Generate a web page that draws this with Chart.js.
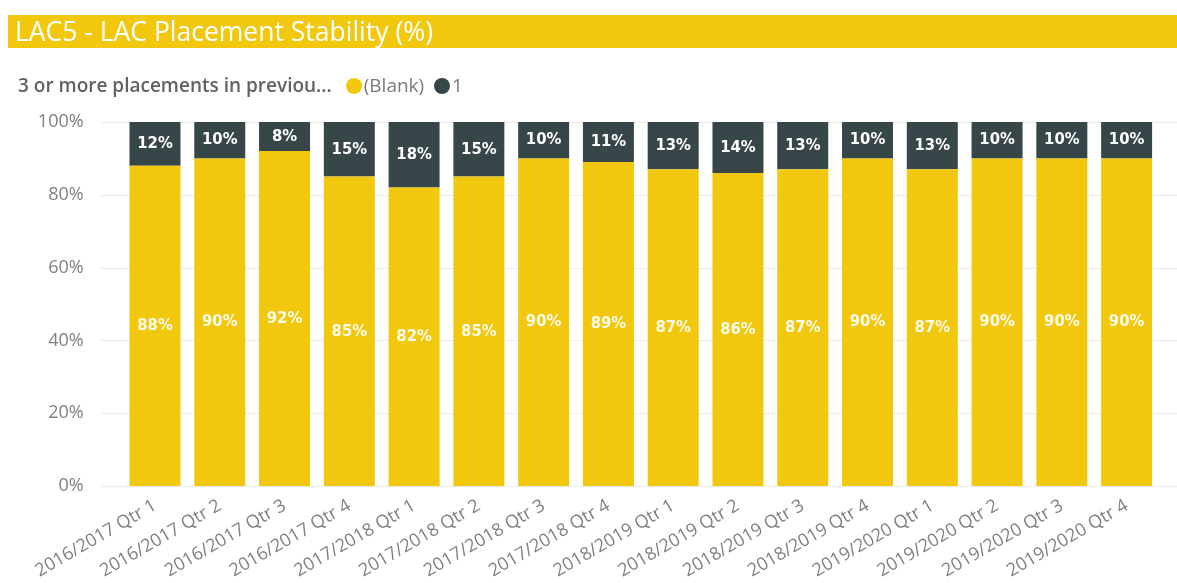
<!DOCTYPE html>
<html>
<head>
<meta charset="utf-8">
<script src="https://cdn.jsdelivr.net/npm/chart.js@4/dist/chart.umd.min.js"></script>
<style>
  html, body { margin: 0; padding: 0; background: #fff; width: 1177px; height: 583px; overflow: hidden; }
  #wrap { position: relative; width: 1177px; height: 583px; }
  #title { position: absolute; left: 8px; top: 15px; width: 1169px; height: 33px; background: #F2C80F;
           color: #fff; font-family: "Open Sans", sans-serif; font-size: 26.5px; line-height: 33px; box-sizing: border-box; padding-left: 7px; white-space: nowrap; }
  #legend { position: absolute; left: 18px; top: 72px; height: 26px; font-family: "Open Sans", sans-serif; font-size: 19px;
            color: #666; line-height: 26px; white-space: nowrap; }
  #legend .t { font-weight: 600; color: #626262; margin-right: 14px; }
  #legend .i { color: #7a7a7a; }
  #legend .dot { display: inline-block; width: 16px; height: 16px; border-radius: 50%; vertical-align: -2px; margin-right: 2px; }
  canvas { position: absolute; left: 0; top: 0; }
</style>
</head>
<body>
<div id="wrap">
  <canvas id="c" width="1177" height="583"></canvas>
  <div id="title">LAC5 - LAC Placement Stability (%)</div>
  <div id="legend"><span class="t">3 or more placements in previou...</span><span class="dot" style="background:#F2C80F"></span><span class="i">(Blank)</span>&nbsp;&nbsp;<span class="dot" style="background:#374649"></span><span class="i">1</span></div>
</div>
<script>
const categories = ["2016/2017 Qtr 1","2016/2017 Qtr 2","2016/2017 Qtr 3","2016/2017 Qtr 4",
  "2017/2018 Qtr 1","2017/2018 Qtr 2","2017/2018 Qtr 3","2017/2018 Qtr 4",
  "2018/2019 Qtr 1","2018/2019 Qtr 2","2018/2019 Qtr 3","2018/2019 Qtr 4",
  "2019/2020 Qtr 1","2019/2020 Qtr 2","2019/2020 Qtr 3","2019/2020 Qtr 4"];
const blankValues = [88,90,92,85,82,85,90,89,87,86,87,90,87,90,90,90];
const oneValues   = [12,10,8,15,18,15,10,11,13,14,13,10,13,10,10,10];
const yTicks = [0,20,40,60,80,100];

const gridPlugin = {
  id: 'extGrid',
  beforeDatasetsDraw(chart) {
    const ctx = chart.ctx, y = chart.scales.y;
    ctx.save();
    ctx.strokeStyle = '#ececec';
    ctx.lineWidth = 1;
    yTicks.forEach(v => {
      const py = Math.round(y.getPixelForValue(v)) + 0.5;
      ctx.beginPath(); ctx.moveTo(100, py); ctx.lineTo(1177, py); ctx.stroke();
    });
    ctx.restore();
  }
};

const labelPlugin = {
  id: 'segLabels',
  afterDatasetsDraw(chart) {
    const ctx = chart.ctx;
    ctx.save();
    ctx.font = 'bold 16.5px "DejaVu Sans Condensed", "DejaVu Sans", sans-serif';
    ctx.textAlign = 'center';
    ctx.textBaseline = 'middle';
    chart.data.datasets.forEach((ds, di) => {
      const meta = chart.getDatasetMeta(di);
      meta.data.forEach((bar, i) => {
        const p = bar.getProps(['x','y','base'], true);
        const cy = (p.y + p.base) / 2;
        ctx.fillStyle = di === 0 ? '#fffbea' : '#ffffff';
        ctx.fillText(ds.data[i] + '%', p.x, cy);
      });
    });
    ctx.restore();
  }
};

new Chart(document.getElementById('c'), {
  type: 'bar',
  data: {
    labels: categories,
    datasets: [
      { label: '(Blank)', data: blankValues, backgroundColor: '#F2C80F', categoryPercentage: 1, barPercentage: 0.787 },
      { label: '1', data: oneValues, backgroundColor: '#374649', categoryPercentage: 1, barPercentage: 0.787 }
    ]
  },
  options: {
    responsive: false,
    animation: false,
    layout: { padding: { top: 122, right: 18, left: 0, bottom: 0 } },
    plugins: { legend: { display: false }, tooltip: { enabled: false }, title: { display: false } },
    scales: {
      x: {
        stacked: true,
        grid: { display: false, drawTicks: false },
        border: { display: false },
        afterFit(s) { s.height = 97; },
        ticks: { minRotation: 30, maxRotation: 30, autoSkip: false, padding: 9, color: '#808080',
                 font: { family: '"Open Sans", sans-serif', size: 18 } }
      },
      y: {
        stacked: true,
        min: 0, max: 100,
        grid: { display: false, drawTicks: false },
        border: { display: false },
        afterFit(s) { s.width = 122.6; },
        afterBuildTicks(s) { s.ticks = yTicks.map(v => ({ value: v })); },
        ticks: { padding: 39, color: '#808080', callback: v => v + '%',
                 font: { family: '"Open Sans", sans-serif', size: 18 } }
      }
    }
  },
  plugins: [gridPlugin, labelPlugin]
});
</script>
</body>
</html>
